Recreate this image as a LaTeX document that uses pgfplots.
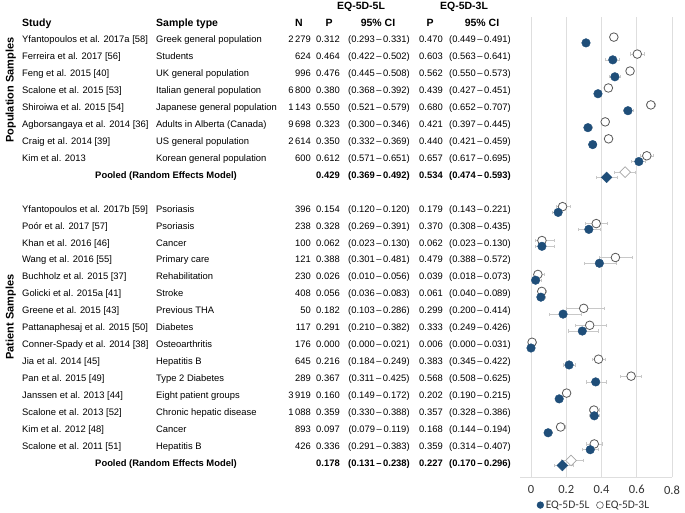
\documentclass[border=0pt]{standalone}
\usepackage{pgfplots}
\pgfplotsset{compat=1.18}
\usepackage{pgfplotstable}
\usepackage{fontspec}
\setmainfont{Liberation Sans}
\newfontfamily\calib{Carlito}
\definecolor{blu}{RGB}{31,78,121}
\definecolor{cgray}{RGB}{89,89,89}
\definecolor{dgray}{RGB}{166,166,166}
\definecolor{ebar}{RGB}{200,200,200}
\definecolor{gridc}{RGB}{222,222,222}

\pgfplotstableread{
row p5 lo5 hi5 p3 lo3 hi3
0 0.312 0.293 0.331 0.470 0.449 0.491
1 0.464 0.422 0.502 0.603 0.563 0.641
2 0.476 0.445 0.508 0.562 0.550 0.573
3 0.380 0.368 0.392 0.439 0.427 0.451
4 0.550 0.521 0.579 0.680 0.652 0.707
5 0.323 0.300 0.346 0.421 0.397 0.445
6 0.350 0.332 0.369 0.440 0.421 0.459
7 0.612 0.571 0.651 0.657 0.617 0.695
10 0.154 0.120 0.120 0.179 0.143 0.221
11 0.328 0.269 0.391 0.370 0.308 0.435
12 0.062 0.023 0.130 0.062 0.023 0.130
13 0.388 0.301 0.481 0.479 0.388 0.572
14 0.026 0.010 0.056 0.039 0.018 0.073
15 0.056 0.036 0.083 0.061 0.040 0.089
16 0.182 0.103 0.286 0.299 0.200 0.414
17 0.291 0.210 0.382 0.333 0.249 0.426
18 0.000 0.000 0.021 0.006 0.000 0.031
19 0.216 0.184 0.249 0.383 0.345 0.422
20 0.367 0.311 0.425 0.568 0.508 0.625
21 0.160 0.149 0.172 0.202 0.190 0.215
22 0.359 0.330 0.388 0.357 0.328 0.386
23 0.097 0.079 0.119 0.168 0.144 0.194
24 0.336 0.291 0.383 0.359 0.314 0.407
}\studies
\pgfplotstableread{
row p5 lo5 hi5 p3 lo3 hi3
8 0.429 0.369 0.492 0.534 0.474 0.593
25 0.178 0.131 0.238 0.227 0.170 0.296
}\pooled

\newcommand\rowfont{\fontsize{9.4bp}{11bp}\selectfont}
\newcommand\hdfont{\bfseries\fontsize{10.5bp}{12bp}\selectfont}
\newcommand\ci[2]{(#1\,\textendash\,#2)}
\newcommand\trow[8]{%
  \pgfmathsetmacro\yy{-(40+16.95*(#1))}%
  \node[t,anchor=mid west] at (22bp,\yy bp) {#2};%
  \node[t,anchor=mid west] at (156bp,\yy bp) {#3};%
  \node[t,anchor=mid east] at (311bp,\yy bp) {#4};%
  \node[t,anchor=mid] at (328bp,\yy bp) {#5};%
  \node[t,anchor=mid] at (379bp,\yy bp) {#6};%
  \node[t,anchor=mid] at (431bp,\yy bp) {#7};%
  \node[t,anchor=mid] at (480bp,\yy bp) {#8};%
}
\newcommand\prow[5]{%
  \pgfmathsetmacro\yy{-(40+16.95*(#1))}%
  \node[t,anchor=mid,font=\rowfont\bfseries] at (166bp,\yy bp) {Pooled (Random Effects Model)};%
  \node[t,anchor=mid,font=\rowfont\bfseries] at (328bp,\yy bp) {#2};%
  \node[t,anchor=mid,font=\rowfont\bfseries] at (379bp,\yy bp) {#3};%
  \node[t,anchor=mid,font=\rowfont\bfseries] at (431bp,\yy bp) {#4};%
  \node[t,anchor=mid,font=\rowfont\bfseries] at (480bp,\yy bp) {#5};%
}

\begin{document}
\begin{tikzpicture}[t/.style={inner sep=0pt,font=\rowfont}]
\path[use as bounding box] (0,0) rectangle (685bp,-513bp);
\begin{axis}[
  at={(520bp,-477bp)}, anchor=south west,
  scale only axis, width=152bp, height=460bp,
  xmin=-0.0624, xmax=0.8, ymin=-25.78, ymax=1.357,
  axis x line*=bottom, axis y line=none,
  x axis line style={draw=gridc, line width=0.8bp},
  xtick={0,0.2,0.4,0.6,0.8},
  xticklabels={0,0.2,0.4,0.6,0.8},
  xtick style={draw=none},
  xmajorgrids, grid style={draw=gridc, line width=0.6bp},
  xticklabel style={font=\calib\fontsize{12.5bp}{14bp}\selectfont, text=black!80, yshift=-5bp},
  /pgf/number format/assume math mode=true,
  clip=false,
  legend columns=2,
  legend style={at={(0.487,-0.061)}, anchor=center, draw=none, fill=none,
    font=\calib\fontsize{11.5bp}{13bp}\selectfont, inner sep=0pt, text=black!80,
    /tikz/every even column/.append style={column sep=5bp}},
  legend cell align=left,
]
\addlegendimage{only marks, mark=*, mark size=3.4bp, mark options={fill=blu, draw=blu}}
\addlegendentry{EQ-5D-5L}
\addlegendimage{only marks, mark=*, mark size=3.4bp, mark options={fill=white, draw=cgray, line width=0.6bp}}
\addlegendentry{EQ-5D-3L}
% 3L studies
\addplot[forget plot, only marks, mark=*, mark size=4.3bp,
  mark options={fill=white, draw=cgray, line width=0.8bp},
  error bars/.cd, x dir=both, x explicit,
  error bar style={draw=ebar, line width=0.5bp},
  error mark options={rotate=90, draw=ebar, mark size=1.6bp, line width=0.5bp}]
  table[x=p3, y expr=-\thisrow{row}+0.17,
    x error plus expr=\thisrow{hi3}-\thisrow{p3},
    x error minus expr=\thisrow{p3}-\thisrow{lo3}] {\studies};
% 5L studies
\addplot[forget plot, only marks, mark=*, mark size=4.3bp,
  mark options={fill=blu, draw=blu},
  error bars/.cd, x dir=both, x explicit,
  error bar style={draw=ebar, line width=0.5bp},
  error mark options={rotate=90, draw=ebar, mark size=1.6bp, line width=0.5bp}]
  table[x=p5, y expr=-\thisrow{row}-0.17,
    x error plus expr=\thisrow{hi5}-\thisrow{p5},
    x error minus expr=\thisrow{p5}-\thisrow{lo5}] {\studies};
% pooled 3L
\addplot[forget plot, only marks, mark=square*, mark size=3.8bp,
  mark options={rotate=45, fill=white, draw=dgray, line width=0.7bp},
  error bars/.cd, x dir=both, x explicit,
  error bar style={draw=ebar, line width=0.5bp},
  error mark options={rotate=90, draw=ebar, mark size=1.6bp, line width=0.5bp}]
  table[x=p3, y expr=-\thisrow{row}+0.2,
    x error plus expr=\thisrow{hi3}-\thisrow{p3},
    x error minus expr=\thisrow{p3}-\thisrow{lo3}] {\pooled};
% pooled 5L
\addplot[forget plot, only marks, mark=square*, mark size=3.8bp,
  mark options={rotate=45, fill=blu, draw=blu},
  error bars/.cd, x dir=both, x explicit,
  error bar style={draw=ebar, line width=0.5bp},
  error mark options={rotate=90, draw=ebar, mark size=1.6bp, line width=0.5bp}]
  table[x=p5, y expr=-\thisrow{row}-0.1,
    x error plus expr=\thisrow{hi5}-\thisrow{p5},
    x error minus expr=\thisrow{p5}-\thisrow{lo5}] {\pooled};
\end{axis}

% headers
\node[t,font=\hdfont,anchor=mid] at (361bp,-7bp) {EQ-5D-5L};
\node[t,font=\hdfont,anchor=mid] at (464bp,-7bp) {EQ-5D-3L};
\node[t,font=\hdfont,anchor=mid west] at (22bp,-24bp) {Study};
\node[t,font=\hdfont,anchor=mid west] at (156bp,-24bp) {Sample type};
\node[t,font=\hdfont,anchor=mid] at (299bp,-24bp) {N};
\node[t,font=\hdfont,anchor=mid] at (329bp,-24bp) {P};
\node[t,font=\hdfont,anchor=mid] at (378bp,-24bp) {95\% CI};
\node[t,font=\hdfont,anchor=mid] at (430bp,-24bp) {P};
\node[t,font=\hdfont,anchor=mid] at (482bp,-24bp) {95\% CI};
% section labels
\node[t,font=\bfseries\fontsize{11bp}{13bp}\selectfont,rotate=90,anchor=mid] at (11bp,-90bp) {Population Samples};
\node[t,font=\bfseries\fontsize{11bp}{13bp}\selectfont,rotate=90,anchor=mid] at (11bp,-317bp) {Patient Samples};

\trow{0}{Yfantopoulos et al. 2017a [58]}{Greek general population}{2\,279}{0.312}{\ci{0.293}{0.331}}{0.470}{\ci{0.449}{0.491}}
\trow{1}{Ferreira et al. 2017 [56]}{Students}{624}{0.464}{\ci{0.422}{0.502}}{0.603}{\ci{0.563}{0.641}}
\trow{2}{Feng et al. 2015 [40]}{UK general population}{996}{0.476}{\ci{0.445}{0.508}}{0.562}{\ci{0.550}{0.573}}
\trow{3}{Scalone et al. 2015 [53]}{Italian general population}{6\,800}{0.380}{\ci{0.368}{0.392}}{0.439}{\ci{0.427}{0.451}}
\trow{4}{Shiroiwa et al. 2015 [54]}{Japanese general population}{1\,143}{0.550}{\ci{0.521}{0.579}}{0.680}{\ci{0.652}{0.707}}
\trow{5}{Agborsangaya et al. 2014 [36]}{Adults in Alberta (Canada)}{9\,698}{0.323}{\ci{0.300}{0.346}}{0.421}{\ci{0.397}{0.445}}
\trow{6}{Craig et al. 2014 [39]}{US general population}{2\,614}{0.350}{\ci{0.332}{0.369}}{0.440}{\ci{0.421}{0.459}}
\trow{7}{Kim et al. 2013}{Korean general population}{600}{0.612}{\ci{0.571}{0.651}}{0.657}{\ci{0.617}{0.695}}
\prow{8}{0.429}{\ci{0.369}{0.492}}{0.534}{\ci{0.474}{0.593}}

\trow{10}{Yfantopoulos et al. 2017b [59]}{Psoriasis}{396}{0.154}{\ci{0.120}{0.120}}{0.179}{\ci{0.143}{0.221}}
\trow{11}{Poór et al. 2017 [57]}{Psoriasis}{238}{0.328}{\ci{0.269}{0.391}}{0.370}{\ci{0.308}{0.435}}
\trow{12}{Khan et al. 2016 [46]}{Cancer}{100}{0.062}{\ci{0.023}{0.130}}{0.062}{\ci{0.023}{0.130}}
\trow{13}{Wang et al. 2016 [55]}{Primary care}{121}{0.388}{\ci{0.301}{0.481}}{0.479}{\ci{0.388}{0.572}}
\trow{14}{Buchholz et al. 2015 [37]}{Rehabilitation}{230}{0.026}{\ci{0.010}{0.056}}{0.039}{\ci{0.018}{0.073}}
\trow{15}{Golicki et al. 2015a [41]}{Stroke}{408}{0.056}{\ci{0.036}{0.083}}{0.061}{\ci{0.040}{0.089}}
\trow{16}{Greene et al. 2015 [43]}{Previous THA}{50}{0.182}{\ci{0.103}{0.286}}{0.299}{\ci{0.200}{0.414}}
\trow{17}{Pattanaphesaj et al. 2015 [50]}{Diabetes}{117}{0.291}{\ci{0.210}{0.382}}{0.333}{\ci{0.249}{0.426}}
\trow{18}{Conner-Spady et al. 2014 [38]}{Osteoarthritis}{176}{0.000}{\ci{0.000}{0.021}}{0.006}{\ci{0.000}{0.031}}
\trow{19}{Jia et al. 2014 [45]}{Hepatitis B}{645}{0.216}{\ci{0.184}{0.249}}{0.383}{\ci{0.345}{0.422}}
\trow{20}{Pan et al. 2015 [49]}{Type 2 Diabetes}{289}{0.367}{\ci{0.311}{0.425}}{0.568}{\ci{0.508}{0.625}}
\trow{21}{Janssen et al. 2013 [44]}{Eight patient groups}{3\,919}{0.160}{\ci{0.149}{0.172}}{0.202}{\ci{0.190}{0.215}}
\trow{22}{Scalone et al. 2013 [52]}{Chronic hepatic disease}{1\,088}{0.359}{\ci{0.330}{0.388}}{0.357}{\ci{0.328}{0.386}}
\trow{23}{Kim et al. 2012 [48]}{Cancer}{893}{0.097}{\ci{0.079}{0.119}}{0.168}{\ci{0.144}{0.194}}
\trow{24}{Scalone et al. 2011 [51]}{Hepatitis B}{426}{0.336}{\ci{0.291}{0.383}}{0.359}{\ci{0.314}{0.407}}
\prow{25}{0.178}{\ci{0.131}{0.238}}{0.227}{\ci{0.170}{0.296}}
\end{tikzpicture}
\end{document}
